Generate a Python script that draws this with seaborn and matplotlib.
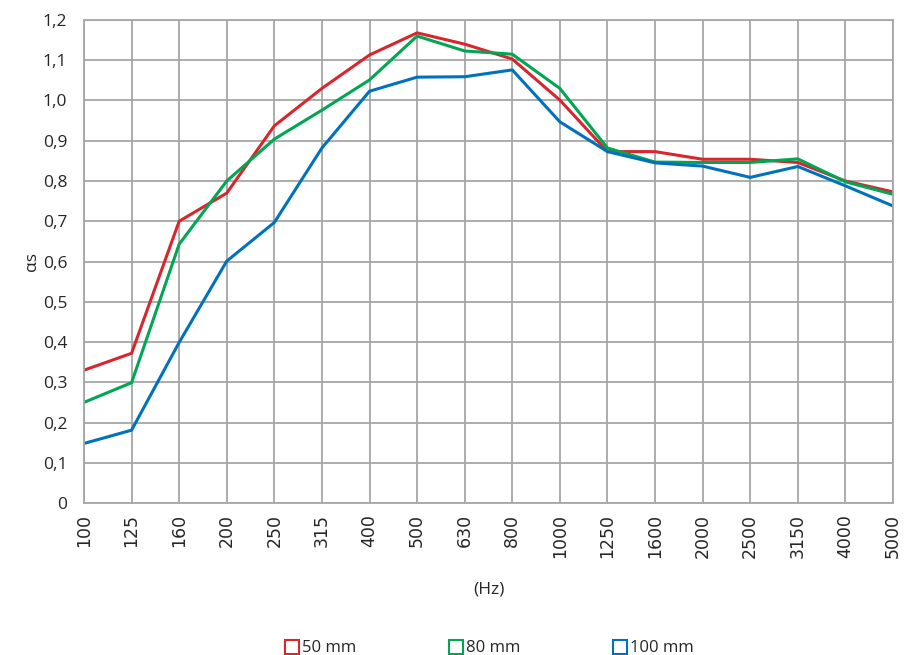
import matplotlib
matplotlib.use("Agg")
import matplotlib.pyplot as plt
from matplotlib.lines import Line2D
from matplotlib.ticker import FuncFormatter
import seaborn as sns
import pandas as pd

# =============================================================================
# DATA
# =============================================================================
freqs = ["100", "125", "160", "200", "250", "315", "400", "500", "630", "800",
         "1000", "1250", "1600", "2000", "2500", "3150", "4000", "5000"]
alpha_50mm = [0.33, 0.372, 0.70, 0.77, 0.937, 1.03, 1.113, 1.168, 1.140, 1.103,
              1.001, 0.873, 0.873, 0.854, 0.854, 0.846, 0.800, 0.773]
alpha_80mm = [0.25, 0.299, 0.643, 0.80, 0.904, 0.976, 1.051, 1.160, 1.123, 1.115,
              1.030, 0.882, 0.847, 0.846, 0.846, 0.855, 0.798, 0.767]
alpha_100mm = [0.148, 0.181, 0.399, 0.601, 0.697, 0.882, 1.023, 1.058, 1.059, 1.076,
               0.947, 0.873, 0.845, 0.837, 0.809, 0.836, 0.788, 0.738]
series_names = ["50 mm", "80 mm", "100 mm"]
y_ticks = [0, 0.1, 0.2, 0.3, 0.4, 0.5, 0.6, 0.7, 0.8, 0.9, 1.0, 1.1, 1.2]

colors = {"50 mm": "#d7262e", "80 mm": "#00a651", "100 mm": "#0072bc"}

df = pd.DataFrame({
    "Frequency": freqs * 3,
    "alpha": alpha_50mm + alpha_80mm + alpha_100mm,
    "Thickness": [n for n in series_names for _ in freqs],
})

# =============================================================================
# PLOTTING
# =============================================================================
sns.set_style("white")
plt.rcParams["font.family"] = ["Open Sans", "DejaVu Sans"]

fig = plt.figure(figsize=(9.05, 6.55), dpi=100)
ax = fig.add_axes([0.0928, 0.232, 0.8939, 0.7375])

sns.lineplot(data=df, x="Frequency", y="alpha", hue="Thickness", palette=colors,
             sort=False, linewidth=2.2, ax=ax, legend=False)

grid_col = "#a6a6a6"
ax.set_xlim(0, len(freqs) - 1)
ax.set_ylim(0, 1.2)
ax.set_yticks(y_ticks)
ax.yaxis.set_major_formatter(FuncFormatter(
    lambda v, p: "0" if abs(v) < 1e-9 else f"{v:.1f}".replace(".", ",")))
ax.grid(True, color=grid_col, linewidth=1.3)
ax.set_axisbelow(True)
for sp in ax.spines.values():
    sp.set_color(grid_col)
    sp.set_linewidth(1.3)

ax.tick_params(axis="x", labelrotation=90, labelsize=12.5, length=0, pad=8)
ax.tick_params(axis="y", labelsize=12.5, length=0, pad=12)
for lbl in ax.get_xticklabels():
    lbl.set_family("DejaVu Sans")

ax.set_xlabel("(Hz)", fontsize=12.5, labelpad=17)
ax.set_ylabel("αs", fontsize=12.5, labelpad=2)

handles = [Line2D([], [], linestyle="none", marker="s", markersize=10,
                  markerfacecolor="white", markeredgecolor=colors[n],
                  markeredgewidth=1.5, label=n) for n in series_names]
fig.legend(handles=handles, loc="lower center", bbox_to_anchor=(0.54, -0.025),
           ncol=3, frameon=False, fontsize=12, handletextpad=0.1,
           columnspacing=5.5, handlelength=1.0)

fig.savefig("out.png", dpi=100)
plt.close(fig)
